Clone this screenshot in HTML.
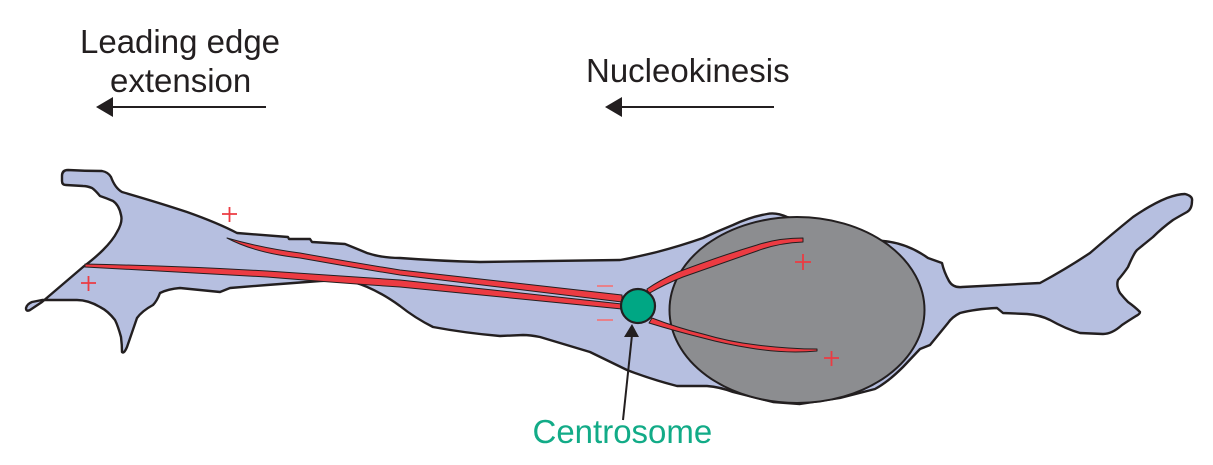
<!DOCTYPE html>
<html>
<head>
<meta charset="utf-8">
<style>
html,body{margin:0;padding:0;background:#fff;width:1213px;height:465px;overflow:hidden}
svg{display:block}
text{font-family:"Liberation Sans",sans-serif;font-size:33px;fill:#231f20}
</style>
</head>
<body>
<svg width="1213" height="465" viewBox="0 0 1213 465" xmlns="http://www.w3.org/2000/svg">
<path fill="#b6bfe0" stroke="#231f20" stroke-width="2.400" stroke-linejoin="round" d="M62 176 Q62 170 68 170 Q85 171 102 171 Q108 172 111 177 Q115 188 122 192 Q160 203 187 212 Q218 223 237 233 L288 237 L289 239 L310 239 L312 242 L345 244 Q355 248 367 253 Q382 258 400 258 Q440 261 480 262 Q550 261 620 260 Q632 258 657 252 Q680 246 703 238 Q718 231 733 225 Q750 217 767 214 Q776 212 787 217 L883 241 Q907 243 928 258 L942 263 Q944 272 949 281 Q953 288 962 287 L1040 283 Q1066 269 1090 253 Q1112 234 1133 217 Q1152 204 1167 198 Q1178 194 1185 194 Q1193 196 1192 201 Q1192 209 1187 212 Q1178 217 1173 220 Q1162 228 1153 237 L1137 250 Q1134 253 1128 267 Q1124 273 1118 280 Q1116 286 1120 293 Q1124 298 1128 302 Q1135 307 1140 312 Q1140 314 1136 316 Q1128 321 1122 325 Q1112 334 1103 334 L1080 333 Q1066 329 1050 320 Q1040 315 1027 314 L1003 313 L997 308 Q975 309 960 313 Q952 317 948 323 L930 345 L920 349 L903 367 Q888 382 875 389 L840 398 L800 404 L773 402 L733 392 Q720 387 707 386 L677 386 Q650 379 627 370 L590 352 L540 337 Q530 335 523 335 L500 336 Q465 333 433 327 Q415 318 400 306 Q375 288 353 282 Q335 280 320 281 L267 285 L230 288 L220 292 L180 288 Q168 289 160 293 Q157 301 153 305 Q142 311 137 318 L127 347 Q124 354 122 352 Q122 345 121 337 Q118 326 115 320 Q108 311 100 307 Q88 300 77 300 L42 300 L32 302 Q27 304 26 308 Q26 312 30 310 L42 302 L83 267 Q95 258 103 250 Q113 240 117 232 Q123 222 121 215 Q119 205 113 201 Q106 198 100 196 Q95 190 92 188 Q87 186 83 186 L66 185 Q62 185 62 181 Z"/>
<ellipse cx="797" cy="310" rx="127.500" ry="93" fill="#8c8d90" stroke="#231f20" stroke-width="2"/>
<g fill="#ec3b42" stroke="#231f20" stroke-width="1" stroke-linejoin="round">
<path d="M85 264 Q180 266 267 271 Q340 276 400 280 L622 304 L622 309 L400 287 Q340 283 267 277 Q180 272 85 267 Z"/>
<path d="M227 238 Q262 248 300 253 Q350 262 400 270 L622 295 L622 302 L400 275 Q350 267 300 258 Q255 253 227 238 Z"/>
<path d="M647 289 Q660 280 678 272 Q720 256 757 245 Q778 238 803 238 L803 242 Q778 243 757 251 Q720 264 683 277 Q665 284 648 294 Z"/>
<path d="M652 318 Q678 328 703 334 Q730 342 757 345 Q790 349 817 349 L817 351 Q785 354 750 348 Q725 344 703 338 Q675 331 649 323 Z"/>
</g>
<circle cx="638" cy="306" r="17" fill="#00a784" stroke="#231f20" stroke-width="2.200"/>
<g stroke="#ec3b42" stroke-width="1.800" fill="none">
<path d="M222 214 H237 M229.500 207 V222"/>
<path d="M81 283 H96 M88.500 276 V291"/>
<path d="M795 262 H811 M803 254 V270"/>
<path d="M824 358 H839 M831.500 351 V366"/>
</g>
<g stroke="#ee7a80" stroke-width="1.800" fill="none">
<path d="M597 286 H613"/>
<path d="M597 320 H613"/>
</g>
<g stroke="#231f20" stroke-width="2" fill="none">
<path d="M266 107 H110"/>
<path d="M774 107 H620"/>
<path d="M623 420 L632 335"/>
</g>
<g fill="#231f20">
<path d="M96 107 L113 97 L113 117 Z"/>
<path d="M605 107 L622 97 L622 117 Z"/>
<path d="M632 324 L624 337 L639 337 Z"/>
</g>
<text x="80" y="53">Leading edge</text>
<text x="110" y="92">extension</text>
<text x="586" y="82">Nucleokinesis</text>
<text x="532.500" y="443" style="fill:#12ab87">Centrosome</text>
</svg>
</body>
</html>
